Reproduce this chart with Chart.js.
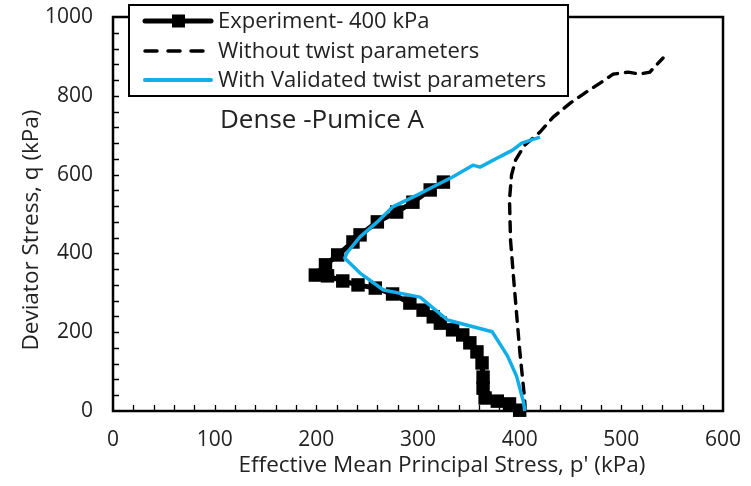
<!DOCTYPE html>
<html>
<head>
<meta charset="utf-8">
<title>Dense Pumice A stress path</title>
<script src="https://cdn.jsdelivr.net/npm/chart.js@4.4.1/dist/chart.umd.min.js"></script>
<style>
  body { margin: 0; background: #fff; }
  #wrap { width: 751px; height: 486px; }
</style>
</head>
<body>
<div id="wrap"><canvas id="pathChart" width="751" height="486"></canvas></div>
<script>
// p' (kPa) and q (kPa) for each stress path
const expP = [400, 390, 378, 366, 364, 364, 363, 358, 351, 344, 334, 322, 315, 305, 292, 275, 258, 241, 226, 211, 199, 209, 221, 236, 243, 260, 279, 295, 312, 325];
const expQ = [2, 18, 25, 33, 58, 86, 122, 150, 173, 193, 206, 223, 239, 256, 274, 297, 312, 320, 330, 343, 345, 371, 396, 429, 447, 480, 505, 530, 561, 581];

const noTwistP = [405, 405, 400, 395, 391, 390, 392, 396, 405, 420, 433, 450, 464, 479, 492, 507, 518, 528, 541];
const noTwistQ = [0, 28, 155, 307, 434, 536, 599, 637, 675, 708, 746, 782, 807, 832, 855, 860, 855, 860, 896];

const twistP = [405, 404, 397, 388, 373, 329, 302, 266, 243, 228, 230, 243, 260, 275, 299, 315, 334, 354, 361, 378, 384, 393, 402, 420];
const twistQ = [0, 20, 88, 140, 201, 231, 289, 307, 350, 388, 401, 442, 480, 518, 548, 569, 594, 624, 619, 642, 650, 662, 680, 695];

const xTicks = [0, 100, 200, 300, 400, 500, 600];
const yTicks = [0, 200, 400, 600, 800, 1000];

const seriesNames = ['Experiment- 400 kPa', 'Without twist parameters', 'With Validated twist parameters'];
const xTitle = "Effective Mean Principal Stress, p' (kPa)";
const yTitle = 'Deviator Stress, q (kPa)';
const caseLabel = 'Dense -Pumice A';

const FONT = '"Open Sans", sans-serif';
const TEXT = '#222';
const BLUE = '#12aee8';

function pairs(xs, ys) {
  return xs.map((x, i) => ({ x: x, y: ys[i] }));
}

// frame, inward minor ticks, axis titles, legend box and label
const decor = {
  id: 'decor',
  beforeDatasetsDraw(chart) {
    const { ctx, chartArea: a, scales } = chart;
    ctx.save();
    ctx.strokeStyle = '#000';
    ctx.lineWidth = 1.3;
    ctx.beginPath();
    for (let v = 20; v < 600; v += 20) {
      const px = Math.round(scales.x.getPixelForValue(v)) + 0.5;
      ctx.moveTo(px, a.bottom);
      ctx.lineTo(px, a.bottom - 6);
    }
    for (let v = 40; v < 1000; v += 40) {
      const py = Math.round(scales.y.getPixelForValue(v)) + 0.5;
      ctx.moveTo(a.left, py);
      ctx.lineTo(a.left + 6, py);
    }
    ctx.stroke();
    ctx.lineWidth = 2.5;
    ctx.strokeRect(a.left, a.top, a.right - a.left, a.bottom - a.top);

    // axis titles sit a little off-centre
    ctx.fillStyle = TEXT;
    ctx.font = '22.5px ' + FONT;
    ctx.textAlign = 'center';
    ctx.textBaseline = 'middle';
    ctx.fillText(xTitle, 442, 466);
    ctx.translate(32, 230);
    ctx.rotate(-Math.PI / 2);
    ctx.fillText(yTitle, 0, 0);
    ctx.restore();
  },
  afterDraw(chart) {
    const ctx = chart.ctx;
    ctx.save();
    ctx.fillStyle = TEXT;
    ctx.font = '26px ' + FONT;
    ctx.textBaseline = 'middle';
    ctx.fillText(caseLabel, 220, 121);

    // legend
    ctx.fillStyle = '#fff';
    ctx.fillRect(129, 5, 439, 91);
    ctx.strokeStyle = '#000';
    ctx.lineWidth = 2;
    ctx.strokeRect(129, 5, 439, 91);

    const rows = [21, 51, 80];
    const ds = chart.data.datasets;
    ctx.lineCap = 'round';
    // experiment sample
    ctx.strokeStyle = ds[0].borderColor;
    ctx.lineWidth = 5;
    ctx.beginPath();
    ctx.moveTo(145, rows[0]);
    ctx.lineTo(211, rows[0]);
    ctx.stroke();
    ctx.fillStyle = ds[0].pointBackgroundColor;
    ctx.fillRect(172, rows[0] - 6.5, 13, 13);
    // no-twist sample
    ctx.strokeStyle = ds[1].borderColor;
    ctx.lineWidth = 3.5;
    ctx.setLineDash([12, 11]);
    ctx.beginPath();
    ctx.moveTo(145, rows[1]);
    ctx.lineTo(211, rows[1]);
    ctx.stroke();
    ctx.setLineDash([]);
    // twist sample
    ctx.strokeStyle = ds[2].borderColor;
    ctx.lineWidth = 4;
    ctx.beginPath();
    ctx.moveTo(145, rows[2]);
    ctx.lineTo(211, rows[2]);
    ctx.stroke();

    ctx.fillStyle = TEXT;
    ctx.font = '22px ' + FONT;
    seriesNames.forEach((name, i) => ctx.fillText(name, 218, rows[i] + 1));
    ctx.restore();
  }
};

const chart = new Chart(document.getElementById('pathChart'), {
  type: 'scatter',
  data: {
    datasets: [
      {
        label: seriesNames[0],
        data: pairs(expP, expQ),
        showLine: true,
        borderColor: '#000',
        borderWidth: 5,
        pointStyle: 'rect',
        pointRadius: 9.5,
        pointBackgroundColor: '#000',
        pointBorderWidth: 0,
        clip: false,
        order: 2
      },
      {
        label: seriesNames[1],
        data: pairs(noTwistP, noTwistQ),
        showLine: true,
        borderColor: '#000',
        borderWidth: 3.4,
        borderDash: [10, 8],
        borderCapStyle: 'round',
        pointRadius: 0,
        order: 1
      },
      {
        label: seriesNames[2],
        data: pairs(twistP, twistQ),
        showLine: true,
        borderColor: BLUE,
        borderWidth: 3.5,
        borderJoinStyle: 'round',
        pointRadius: 0,
        clip: false,
        order: 0
      }
    ]
  },
  options: {
    responsive: false,
    animation: false,
    layout: { padding: { top: 17, right: 28, left: 0, bottom: 0 } },
    plugins: {
      legend: { display: false },
      tooltip: { enabled: false }
    },
    scales: {
      x: {
        type: 'linear',
        min: 0,
        max: 600,
        afterBuildTicks(s) { s.ticks = xTicks.map(v => ({ value: v })); },
        afterFit(s) {
          s.height = 75;
          s.paddingLeft = 0;
          s.paddingRight = 0;
        },
        ticks: {
          padding: 16,
          color: TEXT,
          font: { family: FONT, size: 21 },
          callback: v => String(v)
        },
        grid: { display: false, drawTicks: false },
        border: { display: false }
      },
      y: {
        type: 'linear',
        min: 0,
        max: 1000,
        afterBuildTicks(s) { s.ticks = yTicks.map(v => ({ value: v })); },
        afterFit(s) {
          s.width = 113;
          s.paddingTop = 0;
          s.paddingBottom = 0;
        },
        ticks: {
          padding: 20,
          color: TEXT,
          font: { family: FONT, size: 21 },
          callback: v => String(v)
        },
        grid: { display: false, drawTicks: false },
        border: { display: false }
      }
    }
  },
  plugins: [decor]
});
</script>
</body>
</html>
